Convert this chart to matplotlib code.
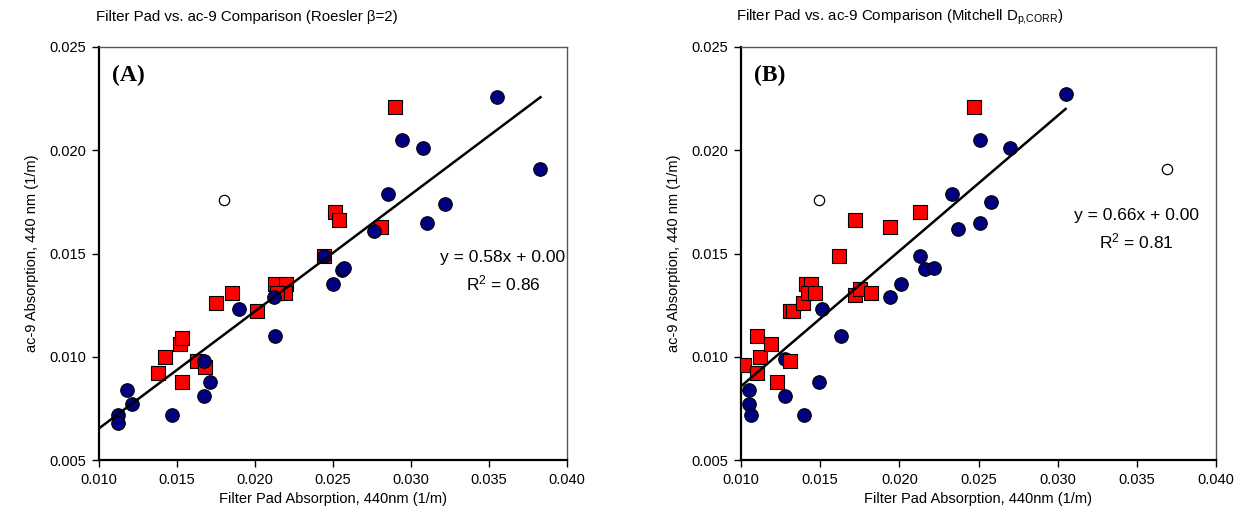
import numpy as np
import matplotlib.pyplot as plt

plt.rcParams['font.family'] = ['Liberation Sans', 'DejaVu Sans']
plt.rcParams['mathtext.fontset'] = 'custom'
plt.rcParams['mathtext.rm'] = 'Liberation Sans'
plt.rcParams['mathtext.it'] = 'Liberation Sans:italic'

# Panel A (Roesler beta=2)
a_blue_x = [0.0112, 0.0112, 0.0118, 0.0121, 0.0147, 0.0167, 0.0167, 0.0171, 0.0190, 0.0212,
            0.0213, 0.0244, 0.0355, 0.0294, 0.0308, 0.0383, 0.0285, 0.0322, 0.0310, 0.0276,
            0.0256, 0.0257, 0.0250]
a_blue_y = [0.0072, 0.0068, 0.0084, 0.0077, 0.0072, 0.0081, 0.0098, 0.0088, 0.0123, 0.0129,
            0.0110, 0.0149, 0.0226, 0.0205, 0.0201, 0.0191, 0.0179, 0.0174, 0.0165, 0.0161,
            0.0142, 0.0143, 0.0135]
a_red_x = [0.0138, 0.0142, 0.0153, 0.0152, 0.0153, 0.0163, 0.0168, 0.0175, 0.0185, 0.0201,
           0.0213, 0.0220, 0.0219, 0.0214, 0.0244, 0.0290, 0.0251, 0.0254, 0.0281]
a_red_y = [0.0092, 0.0100, 0.0088, 0.0106, 0.0109, 0.0098, 0.0095, 0.0126, 0.0131, 0.0122,
           0.0135, 0.0135, 0.0131, 0.0131, 0.0149, 0.0221, 0.0170, 0.0166, 0.0163]
a_open_x = [0.0180]
a_open_y = [0.0176]
a_fit_x = [0.0100, 0.0383]
a_fit_y = [0.00653, 0.02257]

# Panel B (Mitchell Dp,CORR)
b_blue_x = [0.0105, 0.0105, 0.0106, 0.0128, 0.0128, 0.0140, 0.0149, 0.0151, 0.0163, 0.0194,
            0.0201, 0.0305, 0.0251, 0.0270, 0.0233, 0.0258, 0.0251, 0.0237, 0.0213, 0.0216,
            0.0222]
b_blue_y = [0.0084, 0.0077, 0.0072, 0.0099, 0.0081, 0.0072, 0.0088, 0.0123, 0.0110, 0.0129,
            0.0135, 0.0227, 0.0205, 0.0201, 0.0179, 0.0175, 0.0165, 0.0162, 0.0149, 0.01425,
            0.0143]
b_red_x = [0.0102, 0.0110, 0.0110, 0.0112, 0.0119, 0.0123, 0.0131, 0.0131, 0.0133, 0.0139,
           0.0141, 0.0144, 0.0142, 0.0147, 0.0162, 0.0172, 0.0175, 0.0182, 0.0172, 0.0194,
           0.0247, 0.0213]
b_red_y = [0.0096, 0.0110, 0.0092, 0.0100, 0.0106, 0.0088, 0.0098, 0.0122, 0.0122, 0.0126,
           0.0135, 0.0135, 0.0131, 0.0131, 0.0149, 0.0130, 0.0133, 0.0131, 0.0166, 0.0163,
           0.0221, 0.0170]
b_open_x = [0.0149, 0.0369]
b_open_y = [0.0176, 0.0191]
b_fit_x = [0.0100, 0.0305]
b_fit_y = [0.00857, 0.0220]

x_ticks = [0.010, 0.015, 0.020, 0.025, 0.030, 0.035, 0.040]
y_ticks = [0.005, 0.010, 0.015, 0.020, 0.025]

fig = plt.figure(figsize=(12.5, 5.31), dpi=100)
axA = fig.add_axes([99/1250, 1-460/531, 468/1250, 413/531])
axB = fig.add_axes([741/1250, 1-460/531, 475/1250, 413/531])


def draw_panel(ax, bx, by, rx, ry, ox, oy, fx, fy, red_on_top):
    zb, zr = (3, 4) if red_on_top else (4, 3)
    ax.scatter(rx, ry, marker='s', s=90, c='#ff0000', edgecolors='black', linewidths=0.8, zorder=zr)
    ax.scatter(bx, by, marker='o', s=95, c='#000080', edgecolors='black', linewidths=0.8, zorder=zb)
    ax.scatter(ox, oy, marker='o', s=55, c='white', edgecolors='black', linewidths=0.9, zorder=5)
    ax.plot(fx, fy, color='black', lw=1.8, zorder=6)
    ax.set_xlim(0.010, 0.040)
    ax.set_ylim(0.005, 0.025)
    ax.set_xticks(x_ticks)
    ax.set_yticks(y_ticks)
    ax.set_xticklabels(['%.3f' % v for v in x_ticks])
    ax.set_yticklabels(['%.3f' % v for v in y_ticks])
    ax.tick_params(direction='out', length=5, width=1, labelsize=10.5, pad=4)
    for s in ['left', 'bottom']:
        ax.spines[s].set_linewidth(1.6)
        ax.spines[s].set_color('black')
    for s in ['top', 'right']:
        ax.spines[s].set_linewidth(1.0)
        ax.spines[s].set_color('#555555')
    ax.set_xlabel('Filter Pad Absorption, 440nm (1/m)', fontsize=10.5, labelpad=4)
    ax.set_ylabel('ac-9 Absorption, 440 nm (1/m)', fontsize=10.5, labelpad=8)


draw_panel(axA, a_blue_x, a_blue_y, a_red_x, a_red_y, a_open_x, a_open_y, a_fit_x, a_fit_y, False)
draw_panel(axB, b_blue_x, b_blue_y, b_red_x, b_red_y, b_open_x, b_open_y, b_fit_x, b_fit_y, True)

axA.text(0.028, 0.93, '(A)', transform=axA.transAxes, fontsize=17, fontweight='bold',
         family='Liberation Serif', va='center', ha='left')
axB.text(0.028, 0.93, '(B)', transform=axB.transAxes, fontsize=17, fontweight='bold',
         family='Liberation Serif', va='center', ha='left')

axA.text(0.0359, 0.01483, 'y = 0.58x + 0.00', fontsize=12.5, ha='center', va='center')
axA.text(0.0359, 0.01357, r'R$^2$ = 0.86', fontsize=12.5, ha='center', va='center')
axB.text(0.0350, 0.01682, 'y = 0.66x + 0.00', fontsize=12.5, ha='center', va='center')
axB.text(0.0350, 0.01556, r'R$^2$ = 0.81', fontsize=12.5, ha='center', va='center')

fig.text(247/1250, 1-17/531, 'Filter Pad vs. ac-9 Comparison (Roesler \u03b2=2)',
         fontsize=10.8, ha='center', va='center')
fig.text(900/1250, 1-17/531,
         r'Filter Pad vs. ac-9 Comparison (Mitchell D$_{\mathrm{p}{,}\mathrm{CORR}}$)',
         fontsize=10.8, ha='center', va='center')

fig.savefig('out.png', dpi=100)
